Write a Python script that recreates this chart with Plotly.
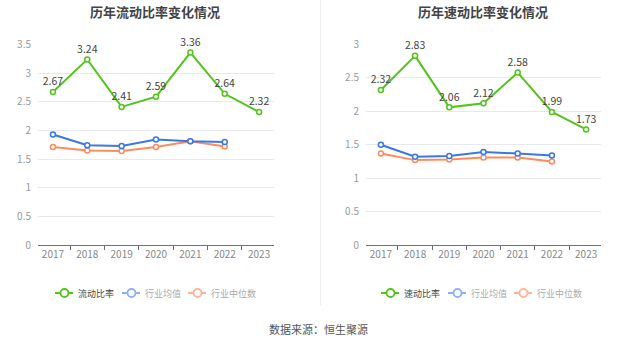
import plotly.graph_objects as go

years = ["2017", "2018", "2019", "2020", "2021", "2022", "2023"]
current_ratio = [2.67, 3.24, 2.41, 2.59, 3.36, 2.64, 2.32]
current_ind_avg = [1.93, 1.74, 1.73, 1.84, 1.81, 1.80]
current_ind_median = [1.71, 1.65, 1.64, 1.71, 1.81, 1.72]
quick_ratio = [2.32, 2.83, 2.06, 2.12, 2.58, 1.99, 1.73]
quick_ind_avg = [1.50, 1.32, 1.33, 1.39, 1.37, 1.34]
quick_ind_median = [1.37, 1.27, 1.28, 1.31, 1.31, 1.25]

W, H = 637, 344
FONT = "Noto Sans CJK SC, Noto Sans, sans-serif"
GREEN = "#52c41a"
BLUE = "#3a77e8"
ORANGE = "#ff8a5c"
BLUE_L = "#8fb0f2"
ORANGE_L = "#ffb49a"

def px(x):
    return x / W

def py(y):
    return 1 - y / H

fig = go.Figure()

def add_series(xa, ya, main, avg, med, main_name):
    fig.add_trace(go.Scatter(
        x=years[:len(med)], y=med, mode="lines+markers", name="行业中位数",
        xaxis=xa, yaxis=ya, line=dict(color=ORANGE, width=2),
        marker=dict(symbol="circle", size=5, color="white", line=dict(color=ORANGE, width=1.5)),
        showlegend=False, cliponaxis=False))
    fig.add_trace(go.Scatter(
        x=years[:len(avg)], y=avg, mode="lines+markers", name="行业均值",
        xaxis=xa, yaxis=ya, line=dict(color=BLUE, width=2),
        marker=dict(symbol="circle", size=5, color="white", line=dict(color=BLUE, width=1.5)),
        showlegend=False, cliponaxis=False))
    fig.add_trace(go.Scatter(
        x=years, y=main, mode="lines+markers+text", name=main_name,
        xaxis=xa, yaxis=ya, line=dict(color=GREEN, width=2),
        marker=dict(symbol="circle", size=5, color="white", line=dict(color=GREEN, width=1.5)),
        text=[f"{v:.2f}" for v in main], textposition="top center",
        textfont=dict(size=10.5, color="#444", family=FONT),
        showlegend=False, cliponaxis=False))

add_series("x", "y", current_ratio, current_ind_avg, current_ind_median, "流动比率")
add_series("x2", "y2", quick_ratio, quick_ind_avg, quick_ind_median, "速动比率")

ydom = [py(245), py(44.5)]
axis_common = dict(
    type="category", showgrid=False, showline=True, linecolor="#6e7079", linewidth=1,
    ticks="outside", ticklen=4, tickcolor="#6e7079", tickson="boundaries",
    tickfont=dict(size=10, color="#888", family=FONT), fixedrange=True, automargin=False,
)
yaxis_common = dict(
    showgrid=True, gridcolor="#e6e9f2", gridwidth=1, zeroline=False, showline=False,
    tickfont=dict(size=10, color="#999", family=FONT), ticks="", ticklabelstandoff=6,
    dtick=0.5, fixedrange=True, automargin=False,
)

fig.update_layout(
    width=W, height=H, margin=dict(l=0, r=0, t=0, b=0, autoexpand=False),
    paper_bgcolor="white", plot_bgcolor="white",
    font=dict(family=FONT),
    xaxis=dict(domain=[px(38), px(274)], anchor="y", **axis_common),
    yaxis=dict(domain=ydom, anchor="x", range=[0, 3.5], **yaxis_common),
    xaxis2=dict(domain=[px(366), px(601)], anchor="y2", **axis_common),
    yaxis2=dict(domain=ydom, anchor="x2", range=[0, 3], **yaxis_common),
    showlegend=False,
)

shapes = []
annotations = []

# divider
shapes.append(dict(type="line", xref="paper", yref="paper",
                   x0=px(320.5), x1=px(320.5), y0=py(0), y1=py(305),
                   line=dict(color="#eeeeee", width=1)))

# titles
for cx, t in [(155, "历年流动比率变化情况"), (483, "历年速动比率变化情况")]:
    annotations.append(dict(text=f"<b>{t}</b>", x=px(cx), y=py(12), xref="paper", yref="paper",
                            showarrow=False, xanchor="center", yanchor="middle",
                            font=dict(size=13, color="#444", family=FONT)))

# legends (manual)
def legend(offset, main_name):
    items = [
        (55, GREEN, main_name, "#444"),
        (122, BLUE_L, "行业均值", "#aaa"),
        (188, ORANGE_L, "行业中位数", "#aaa"),
    ]
    yc = 293
    for x0, col, name, tcol in items:
        x0 += offset
        shapes.append(dict(type="line", xref="paper", yref="paper",
                           x0=px(x0), x1=px(x0 + 18), y0=py(yc), y1=py(yc),
                           line=dict(color=col, width=2)))
        shapes.append(dict(type="circle", xref="paper", yref="paper",
                           x0=px(x0 + 9.5 - 4), x1=px(x0 + 9.5 + 4),
                           y0=py(yc + 4), y1=py(yc - 4),
                           fillcolor="white", line=dict(color=col, width=1.8)))
        annotations.append(dict(text=name, x=px(x0 + 21), y=py(yc), xref="paper", yref="paper",
                                showarrow=False, xanchor="left", yanchor="middle",
                                font=dict(size=9, color=tcol, family=FONT)))

legend(0, "流动比率")
legend(326, "速动比率")

annotations.append(dict(text="数据来源：恒生聚源", x=px(318), y=py(329), xref="paper", yref="paper",
                        showarrow=False, xanchor="center", yanchor="middle",
                        font=dict(size=11, color="#555", family=FONT)))

fig.update_layout(shapes=shapes, annotations=annotations)
fig.write_html("out.html")
